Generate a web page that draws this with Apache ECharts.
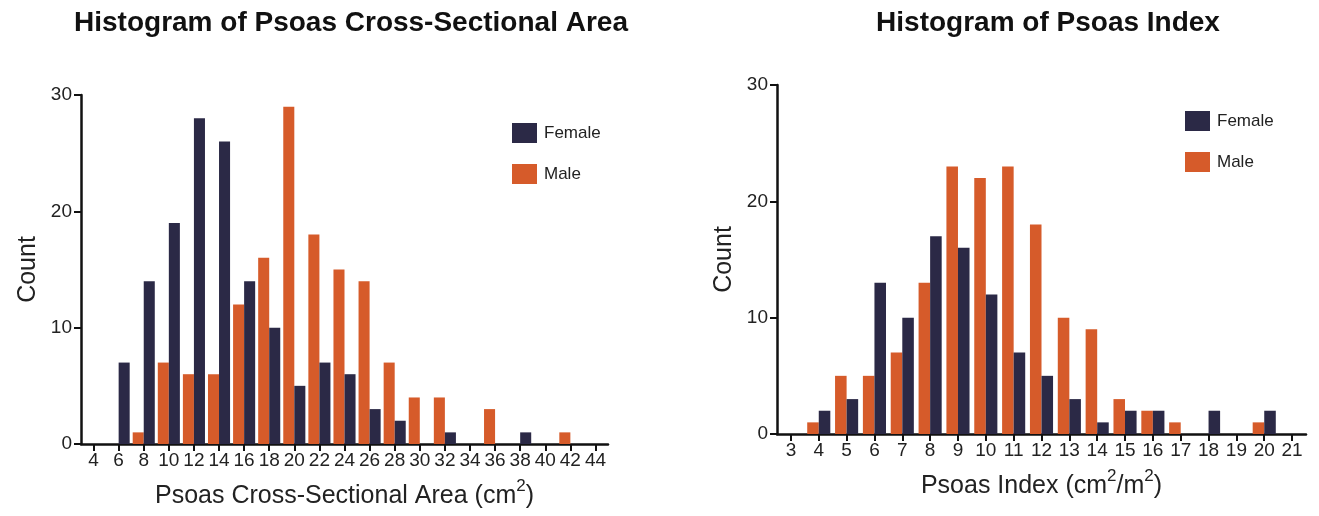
<!DOCTYPE html>
<html>
<head>
<meta charset="utf-8">
<script src="https://cdn.jsdelivr.net/npm/echarts@6/dist/echarts.min.js"></script>
<style>
html,body{margin:0;padding:0;background:#fff;}
#chart{width:1319px;height:516px;}
</style>
</head>
<body>
<div id="chart"></div>
<script>
// Left histogram: Psoas Cross-Sectional Area (cm^2)
const areaBins = ['4','6','8','10','12','14','16','18','20','22','24','26','28','30','32','34','36','38','40','42','44'];
const areaFemale = [0,7,14,19,28,26,14,10,5,7,6,3,2,0,1,0,0,1,0,0,0];
const areaMale   = [0,0,1,7,6,6,12,16,29,18,15,14,7,4,4,0,3,0,0,1,0];

// Right histogram: Psoas Index (cm^2/m^2)
const indexBins = ['3','4','5','6','7','8','9','10','11','12','13','14','15','16','17','18','19','20','21'];
const indexFemale = [0,2,3,13,10,17,16,12,7,5,3,1,2,2,0,2,0,2,0];
const indexMale   = [0,1,5,5,7,13,23,22,23,18,10,9,3,2,1,0,0,1,0];

const yTicks = [0,10,20,30];

const FEMALE = '#2b2946';
const MALE = '#d65b2a';
const FONT = "'Liberation Sans', Arial, sans-serif";

const chart = echarts.init(document.getElementById('chart'), null, {renderer:'canvas'});

function xAxisCfg(idx, cats, nameRich) {
  return {
    type:'category', gridIndex: idx, data: cats,
    axisLine:{show:true, lineStyle:{color:'#111', width:2.5}},
    axisTick:{show:true, alignWithLabel:true, interval:0, length:7, lineStyle:{color:'#111', width:2}},
    axisLabel:{color:'#222', fontSize:19, fontFamily:FONT, margin:7, interval:0, hideOverlap:false},
    name: nameRich, nameLocation:'middle', nameGap:34,
    nameTextStyle:{
      color:'#222', fontFamily:FONT, fontSize:25,
      rich:{
        a:{fontSize:25, fontFamily:FONT, color:'#222', lineHeight:31, verticalAlign:'bottom'},
        s:{fontSize:17, fontFamily:FONT, color:'#222', lineHeight:31, verticalAlign:'top'}
      }
    }
  };
}
function yAxisCfg(idx) {
  return {
    type:'value', gridIndex: idx, min: yTicks[0], max: yTicks[yTicks.length-1], interval: 10,
    axisLine:{show:true, lineStyle:{color:'#111', width:2.5}},
    axisTick:{show:true, length:7, lineStyle:{color:'#111', width:2}},
    axisLabel:{color:'#222', fontSize:19, fontFamily:FONT, margin:9},
    splitLine:{show:false},
    name:'Count', nameLocation:'middle', nameGap:40,
    nameTextStyle:{color:'#222', fontFamily:FONT, fontSize:25}
  };
}

const option = {
  backgroundColor:'#fff',
  animation:false,
  title:[
    {text:'Histogram of Psoas Cross-Sectional Area', left:346, top:4, textAlign:'center',
     textStyle:{fontFamily:FONT, fontSize:28, fontWeight:'bold', color:'#111'}},
    {text:'Histogram of Psoas Index', left:1043, top:4, textAlign:'center',
     textStyle:{fontFamily:FONT, fontSize:28, fontWeight:'bold', color:'#111'}}
  ],
  legend:[
    {data:['Female','Male'], orient:'vertical', left:512, top:123, padding:0, itemWidth:25, itemHeight:20, itemGap:21,
     icon:'rect', textStyle:{fontFamily:FONT, fontSize:17, color:'#222', padding:[0,0,0,2]}, selectedMode:false},
    {data:['Female','Male'], orient:'vertical', left:1185, top:111, padding:0, itemWidth:25, itemHeight:20, itemGap:21,
     icon:'rect', textStyle:{fontFamily:FONT, fontSize:17, color:'#222', padding:[0,0,0,2]}, selectedMode:false}
  ],
  grid:[
    {left:81, top:95, width:527, height:349},
    {left:777, top:85, width:529, height:349}
  ],
  xAxis:[
    xAxisCfg(0, areaBins, '{a|Psoas Cross-Sectional Area (cm}{s|2}{a|)}'),
    xAxisCfg(1, indexBins, '{a|Psoas Index (cm}{s|2}{a|/m}{s|2}{a|)}')
  ],
  yAxis:[yAxisCfg(0), yAxisCfg(1)],
  series:[
    {name:'Male', type:'bar', xAxisIndex:0, yAxisIndex:0, data:areaMale, itemStyle:{color:MALE}, barGap:'0%', barCategoryGap:'12%'},
    {name:'Female', type:'bar', xAxisIndex:0, yAxisIndex:0, data:areaFemale, itemStyle:{color:FEMALE}, barGap:'0%', barCategoryGap:'12%'},
    {name:'Male', type:'bar', xAxisIndex:1, yAxisIndex:1, data:indexMale, itemStyle:{color:MALE}, barGap:'0%', barCategoryGap:'17%'},
    {name:'Female', type:'bar', xAxisIndex:1, yAxisIndex:1, data:indexFemale, itemStyle:{color:FEMALE}, barGap:'0%', barCategoryGap:'17%'}
  ]
};
chart.setOption(option);
</script>
</body>
</html>
